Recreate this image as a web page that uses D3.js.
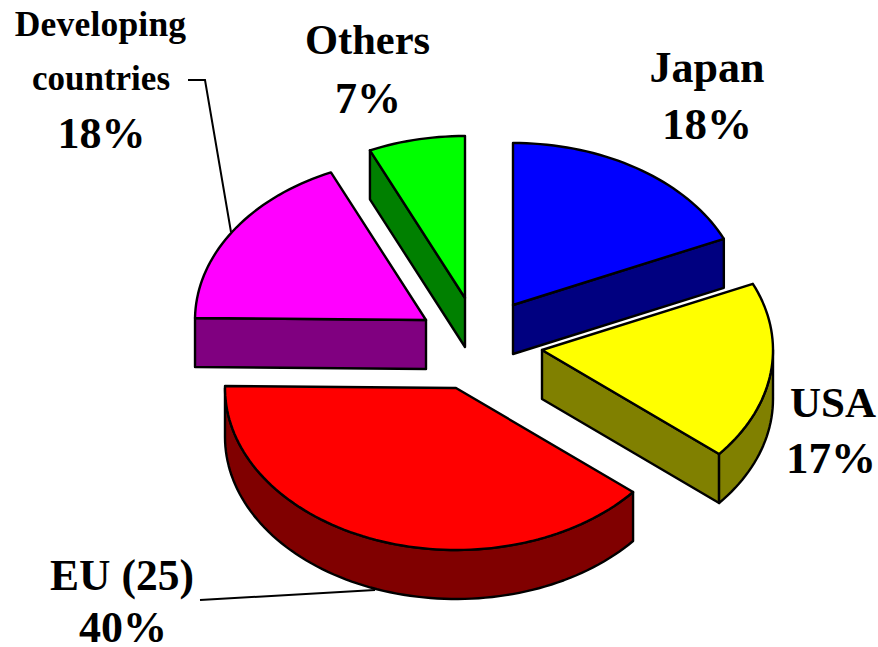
<!DOCTYPE html>
<html><head><meta charset="utf-8">
<script src="https://cdn.jsdelivr.net/npm/d3@7"></script>
<style>html,body{margin:0;padding:0;background:#fff}svg{display:block}
text{font-family:"Liberation Serif",serif;font-weight:bold;fill:#000}</style>
</head><body><svg id="c" width="878" height="647"></svg>
<script>
const categories=["Japan","USA","EU (25)","Developing countries","Others"];
const printedPercent=["18%","17%","40%","18%","7%"];
const drawnShares=[18.3,17.8,39.1,18.05,6.75];
const topColors=["#0000ff","#ffff00","#ff0000","#ff00ff","#00ff00"];
const sideColors=["#000080","#808000","#800000","#800080","#008000"];
const pivots=[[513,305],[542,350],[456,388],[426,320],[465,298]];
const labels=[
 [categories[0],707,82,44,0],[printedPercent[0],707,139,45,0],
 [categories[1],833,417,43,0],[printedPercent[1],831,473,45,0],
 [categories[2],122,590,43.5,0],[printedPercent[2],123,642,44,0],
 ["Developing",100.5,36,35.5,0.2],["countries",101,90,35,0],[printedPercent[3],101.5,148,44,0],
 [categories[4],367.5,54,42.5,0],[printedPercent[4],368,113,44,0]
];
const leaders=[[[188,80],[205,80],[231,232]],[[200,600],[375,590]]];
const svg=d3.select("#c");
const depth=49;
const sx=d3.scaleLinear().domain([-1,1]).range([-231,231]);
const sy=d3.scaleLinear().domain([-1,1]).range([-162,162]);
const arcs=d3.pie().sort(null).value(d=>d)(drawnShares);
const line=d3.line();
const pt=(p,t,dy=0)=>[p[0]+sx(Math.sin(t)),p[1]-sy(Math.cos(t))+dy];
const sample=(a,b)=>{const n=Math.max(2,Math.ceil((b-a)/0.03));return d3.range(n+1).map(i=>a+(b-a)*i/n)};
const G=svg.append("g");
arcs.forEach((d,i)=>{
  const p=pivots[i],a=d.startAngle,b=d.endAngle,mid=(a+b)/2;
  const g=G.append("g").attr("stroke","#000").attr("stroke-width",2.4).attr("stroke-linejoin","round");
  const visible=t=>{const dx=Math.sin(t),dy=-0.7*Math.cos(t),mx=Math.sin(mid),my=-0.7*Math.cos(mid);
    const c1=dx*my-dy*mx,c2=dx;return Math.abs(dx)>1e-6&&c1*c2<0};
  [a,b].filter(visible).forEach(t=>{
    g.append("path").attr("fill",sideColors[i])
     .attr("d",line([p,pt(p,t),pt(p,t,depth),[p[0],p[1]+depth]])+"Z");
  });
  const l=Math.max(a,Math.PI/2),h=Math.min(b,3*Math.PI/2);
  if(h>l){
    const ts=sample(l,h);
    g.append("path").attr("fill",sideColors[i])
     .attr("d",line([...ts.map(t=>pt(p,t)),...ts.slice().reverse().map(t=>pt(p,t,depth))])+"Z");
  }
  g.append("path").attr("fill",topColors[i])
   .attr("d",line([p,...sample(a,b).map(t=>pt(p,t))])+"Z");
});
svg.append("g").selectAll("path").data(leaders).join("path")
  .attr("d",d=>line(d)).attr("fill","none").attr("stroke","#000").attr("stroke-width",2);
svg.append("g").selectAll("text").data(labels).join("text")
  .attr("x",d=>d[1]).attr("y",d=>d[2]).attr("font-size",d=>d[3]).attr("letter-spacing",d=>d[4])
  .attr("text-anchor","middle").text(d=>d[0]);
</script></body></html>
